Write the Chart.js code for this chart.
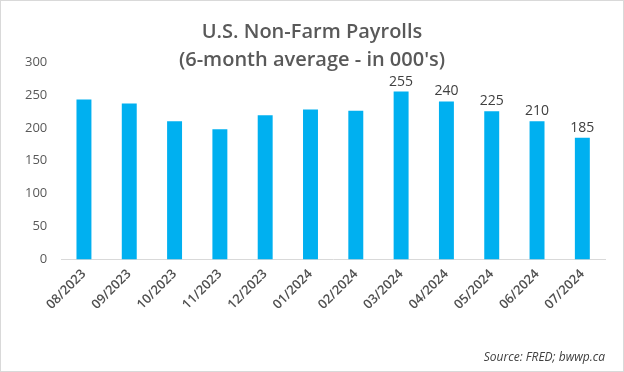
<!DOCTYPE html>
<html>
<head>
<meta charset="utf-8">
<script src="https://cdn.jsdelivr.net/npm/chart.js@4"></script>
<style>
  html,body{margin:0;padding:0;background:#fff;}
  #wrap{width:622px;height:370px;border:1px solid #d9d9d9;position:relative;}
</style>
</head>
<body>
<div id="wrap"><canvas id="chart"></canvas></div>
<script>
// données
const months = ["08/2023","09/2023","10/2023","11/2023","12/2023","01/2024","02/2024","03/2024","04/2024","05/2024","06/2024","07/2024"];
const payrolls = [243, 237, 210, 198, 219, 228, 226, 255, 240, 225, 210, 185];
const labelled = [7, 8, 9, 10, 11]; // seules les 5 dernières barres ont une étiquette
const yTicks = [0, 50, 100, 150, 200, 250, 300];
const titleLines = ["U.S. Non-Farm Payrolls", "(6-month average - in 000's)"];

const grey = "#595959";

// titre sur 2 lignes (le titre de Chart.js prend trop de place, il chevauche le 300 dans l'original)
const titleOverlay = {
  id: "titleOverlay",
  afterDraw(chart){
    const ctx = chart.ctx;
    ctx.save();
    ctx.font = "600 20px 'Open Sans'";
    ctx.fillStyle = grey;
    ctx.textAlign = "center";
    ctx.textBaseline = "middle";
    titleLines.forEach((t, i) => ctx.fillText(t, chart.width / 2, 31 + i * 28));
    ctx.restore();
  }
};

// étiquettes au-dessus des barres
const barLabels = {
  id: "barLabels",
  afterDatasetsDraw(chart){
    const ctx = chart.ctx;
    const meta = chart.getDatasetMeta(0);
    ctx.save();
    ctx.font = "500 14px 'Open Sans'";
    ctx.fillStyle = "#404040";
    ctx.textAlign = "center";
    ctx.textBaseline = "bottom";
    labelled.forEach(i => {
      const bar = meta.data[i];
      ctx.fillText(String(payrolls[i]), bar.x, bar.y - 3);
    });
    ctx.restore();
  }
};

new Chart(document.getElementById("chart"), {
  type: "bar",
  data: {
    labels: months,
    datasets: [{ data: payrolls, backgroundColor: "#00b0f0", borderWidth: 0, categoryPercentage: 1, barPercentage: 0.33 }]
  },
  options: {
    responsive: true,
    maintainAspectRatio: false,
    animation: false,
    layout: { padding: { left: 10, right: 18, top: 61, bottom: 6 } },
    plugins: {
      legend: { display: false },
      tooltip: { enabled: false },
      title: { display: false },
      subtitle: {
        display: true,
        position: "bottom",
        align: "end",
        text: "Source: FRED; bwwp.ca",
        color: "#404040",
        font: { family: "Open Sans", size: 12, style: "italic" },
        padding: { top: 31, bottom: 0 }
      }
    },
    scales: {
      x: {
        grid: { display: false, drawTicks: false },
        border: { color: "#d9d9d9", width: 1 },
        ticks: { color: "#505050", font: { family: "Open Sans", size: 13, weight: "600" }, maxRotation: 45, minRotation: 45, padding: 7 }
      },
      y: {
        min: 0, max: 300,
        afterBuildTicks: (s) => { s.ticks = yTicks.map(v => ({ value: v })); },
        grid: { display: false, drawTicks: false },
        border: { display: false },
        ticks: { color: grey, font: { family: "Open Sans", size: 13 }, padding: 14 }
      }
    }
  },
  plugins: [barLabels, titleOverlay]
});
</script>
</body>
</html>
